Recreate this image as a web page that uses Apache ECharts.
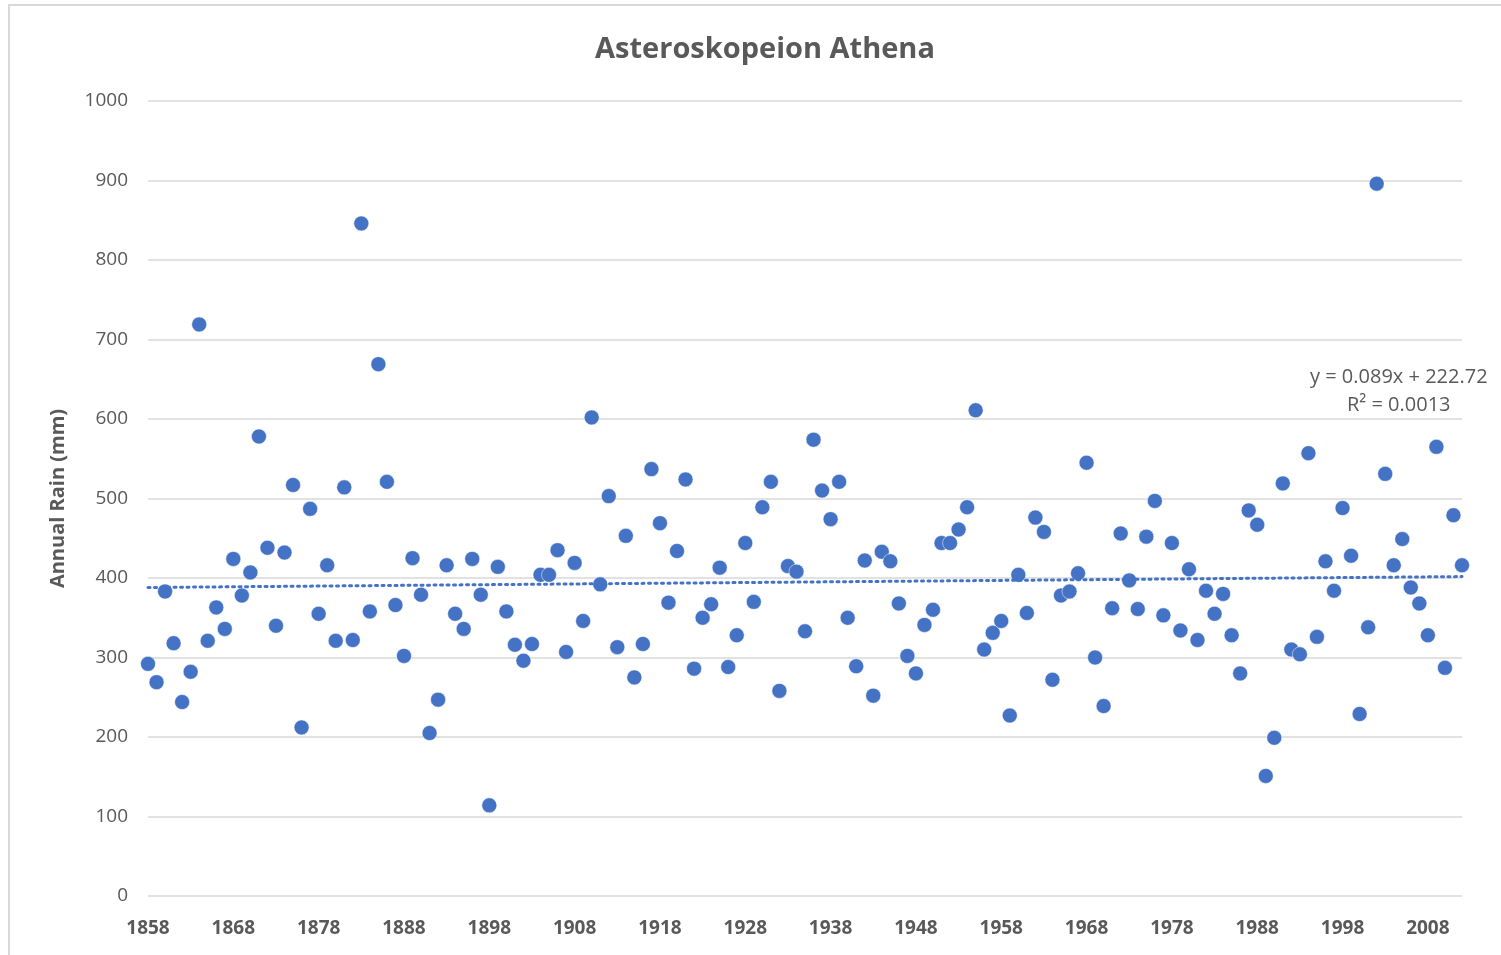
<!DOCTYPE html>
<html>
	<head>
		<meta charset="utf-8">
		<title>Asteroskopeion Athena</title>
		<script src="https://cdn.jsdelivr.net/npm/echarts@6/dist/echarts.min.js"></script>
		<style>
			html, body { margin: 0; padding: 0; background: #fff; }
			#frame {
				position: absolute; left: 8px; top: 4px;
				width: 1510px; height: 960px;
				border: 2px solid #d9d9d9; box-sizing: border-box;
			}
			#main { position: absolute; left: 0; top: 0; width: 1501px; height: 955px; }
		</style>
	</head>
	<body>
		<div id="frame"></div>
		<div id="main"></div>
		<script>
			// years of record
			var years = [];
			for (var yr = 1858; yr <= 2012; yr++) { years.push(yr); }

			// annual rain (mm), 1858..2012
			var rain = [
				292, 269, 383, 318, 244, 282, 719, 321, 363, 336,
				424, 378, 407, 578, 438, 340, 432, 517, 212, 487,
				355, 416, 321, 514, 322, 846, 358, 669, 521, 366,
				302, 425, 379, 205, 247, 416, 355, 336, 424, 379,
				114, 414, 358, 316, 296, 317, 404, 404, 435, 307,
				419, 346, 602, 392, 503, 313, 453, 275, 317, 537,
				469, 369, 434, 524, 286, 350, 367, 413, 288, 328,
				444, 370, 489, 521, 258, 415, 408, 333, 574, 510,
				474, 521, 350, 289, 422, 252, 433, 421, 368, 302,
				280, 341, 360, 444, 444, 461, 489, 611, 310, 331,
				346, 227, 404, 356, 476, 458, 272, 378, 383, 406,
				545, 300, 239, 362, 456, 397, 361, 452, 497, 353,
				444, 334, 411, 322, 384, 355, 380, 328, 280, 485,
				467, 151, 199, 519, 310, 304, 557, 326, 421, 384,
				488, 428, 229, 338, 896, 531, 416, 449, 388, 368,
				328, 565, 287, 479, 416
			];

			// linear trend as printed on the chart
			var trendSlope = 0.089;
			var trendIntercept = 222.72;
			var trendText = ['y = 0.089x + 222.72', 'R\u00b2 = 0.0013'];

			var points = years.map(function (y, i) { return [y, rain[i]]; });
			var x0 = years[0], x1 = years[years.length - 1];
			var trend = [[x0, trendSlope * x0 + trendIntercept], [x1, trendSlope * x1 + trendIntercept]];

			var grey = '#595959';
			var blue = '#4472C4';
			var font = '"Open Sans", Lato, sans-serif';

			var myChart = echarts.init(document.getElementById('main'));
			var option = {
				animation: false,
				title: {
					text: 'Asteroskopeion Athena',
					left: 760,
					textAlign: 'center',
					top: 30,
					textStyle: { color: grey, fontSize: 29, fontWeight: 'bold', fontFamily: font }
				},
				grid: { left: 148, right: 39, top: 101, bottom: 59 },
				xAxis: {
					type: 'value',
					min: 1858,
					max: 2012,
					interval: 10,
					axisLine: { show: false },
					axisTick: { show: false },
					splitLine: { show: false },
					axisLabel: {
						color: grey, fontSize: 19, fontWeight: 'bold', fontFamily: font, margin: 23,
						showMaxLabel: false,
						formatter: function (v) { return String(v); }
					}
				},
				yAxis: {
					type: 'value',
					min: 0,
					max: 1000,
					interval: 100,
					name: 'Annual Rain (mm)',
					nameLocation: 'middle',
					nameGap: 80,
					nameTextStyle: { color: grey, fontSize: 20, fontWeight: 'bold', fontFamily: font },
					axisLine: { show: false },
					axisTick: { show: false },
					splitLine: { lineStyle: { color: '#d9d9d9', width: 1.5 } },
					axisLabel: {
						color: grey, fontSize: 19, fontFamily: font, margin: 20,
						formatter: function (v) { return String(v); }
					}
				},
				series: [{
					name: 'Annual Rain',
					type: 'scatter',
					symbolSize: 15,
					data: points,
					itemStyle: { color: blue, opacity: 1, borderColor: '#fff', borderWidth: 0.5 }
				}, {
					name: 'Trend',
					type: 'line',
					data: trend,
					symbol: 'none',
					silent: true,
					lineStyle: { color: blue, width: 3, type: [2, 4.5], cap: 'round' }
				}],
				graphic: [{
					type: 'text',
					left: 1310,
					top: 367,
					style: { text: trendText[0], fill: grey, fontSize: 20, fontFamily: font }
				}, {
					type: 'text',
					left: 1347,
					top: 395,
					style: { text: trendText[1], fill: grey, fontSize: 20, fontFamily: font }
				}]
			};
			myChart.setOption(option);
		</script>
	</body>
</html>
